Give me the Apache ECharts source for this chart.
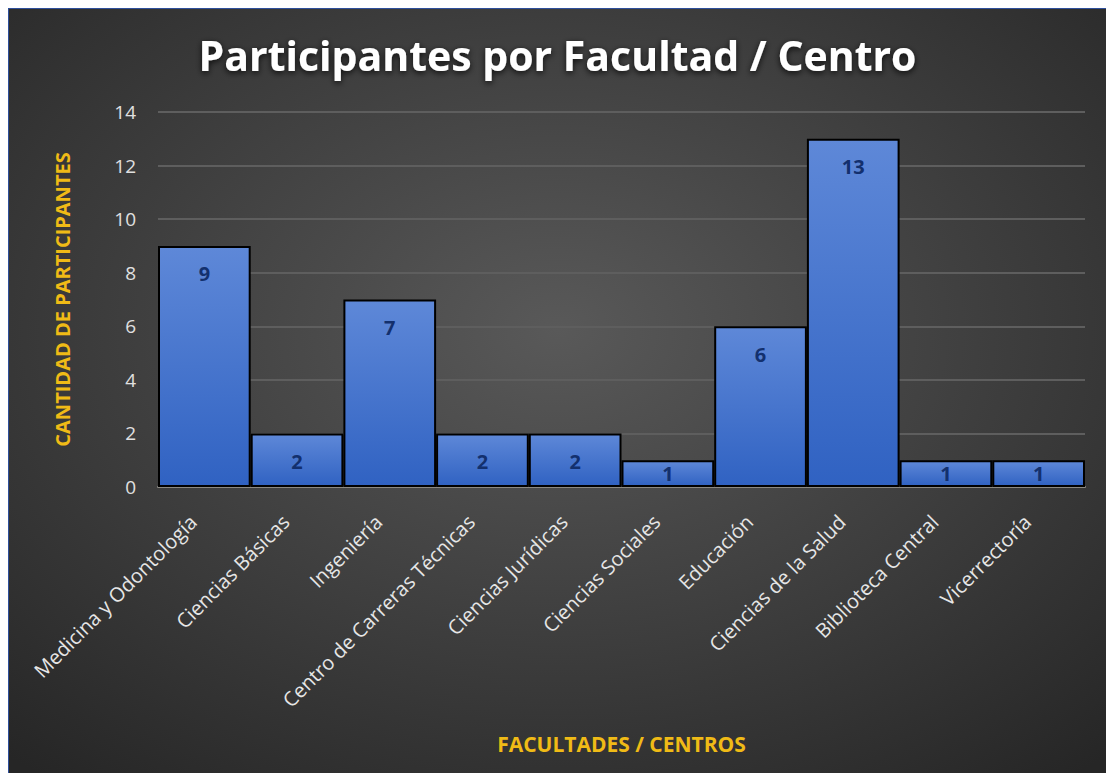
<!DOCTYPE html>
<html>
<head>
<meta charset="utf-8">
<script src="https://cdn.jsdelivr.net/npm/echarts@6/dist/echarts.min.js"></script>
<style>
  html, body { margin: 0; padding: 0; background: #fff; }
  #chart {
    position: absolute;
    left: 8px;
    top: 8px;
    width: 1098px;
    height: 765px;
    border-top: 1px solid #2e4f9a;
    border-left: 1px solid #2e4f9a;
    box-sizing: border-box;
  }
</style>
</head>
<body>
<div id="chart"></div>
<script>
const categories = [
  "Medicina y Odontología", "Ciencias Básicas", "Ingeniería",
  "Centro de Carreras Técnicas", "Ciencias Jurídicas", "Ciencias Sociales",
  "Educación", "Ciencias de la Salud", "Biblioteca Central", "Vicerrectoría"
]
const participantes = [9, 2, 7, 2, 2, 1, 6, 13, 1, 1]
const yTicks = { min: 0, max: 14, interval: 2 }

const FONT = "'Open Sans', 'DejaVu Sans', sans-serif"
const GOLD = "#f0bb16"

const chart = echarts.init(document.getElementById("chart"), null, { renderer: "svg" })

// small bars get a centred label, like the original
const barData = participantes.map(v => v < 2
  ? { value: v, label: { position: "inside" } }
  : v)

chart.setOption({
  backgroundColor: {
    type: "radial", x: 0.5, y: 0.42, r: 0.75,
    colorStops: [
      { offset: 0, color: "#595959" },
      { offset: 0.55, color: "#3d3d3d" },
      { offset: 1, color: "#262626" },
    ],
  },
  title: {
    text: "Participantes por Facultad / Centro",
    left: "center",
    top: 20,
    textStyle: {
      color: "#ffffff",
      fontFamily: FONT,
      fontWeight: "bold",
      fontSize: 41,
      textShadowColor: "rgba(0,0,0,0.8)",
      textShadowBlur: 6,
      textShadowOffsetY: 2,
    },
  },
  grid: { left: 149, right: 21, top: 103, bottom: 286 },
  xAxis: {
    type: "category",
    data: categories,
    name: "FACULTADES / CENTROS",
    nameLocation: "middle",
    nameGap: 246,
    nameTextStyle: { color: GOLD, fontFamily: FONT, fontWeight: "bold", fontSize: 21 },
    axisLine: { lineStyle: { color: "#8c8a84", width: 2 } },
    axisTick: { show: false },
    axisLabel: {
      color: "#e6e6e6",
      fontFamily: FONT,
      fontSize: 20,
      rotate: 45,
      margin: 20,
      padding: [0, 16, 0, 0],
      interval: 0,
    },
  },
  yAxis: {
    type: "value",
    min: yTicks.min,
    max: yTicks.max,
    interval: yTicks.interval,
    name: "CANTIDAD DE PARTICIPANTES",
    nameLocation: "middle",
    nameGap: 86,
    nameTextStyle: { color: GOLD, fontFamily: FONT, fontWeight: "bold", fontSize: 20 },
    axisLine: { show: false },
    axisTick: { show: false },
    axisLabel: { color: "#e0e0e0", fontFamily: FONT, fontSize: 19, margin: 22 },
    splitLine: { lineStyle: { color: "#5e5e5e", width: 2 } },
  },
  series: [{
    type: "bar",
    data: barData,
    barCategoryGap: "0%",
    itemStyle: {
      color: {
        type: "linear", x: 0, y: 0, x2: 0, y2: 1,
        colorStops: [
          { offset: 0, color: "#5e88d8" },
          { offset: 1, color: "#3062c2" },
        ],
      },
      borderColor: "#000000",
      borderWidth: 2,
    },
    label: {
      show: true,
      position: "insideTop",
      distance: 18,
      color: "#13306e",
      fontFamily: FONT,
      fontWeight: "bold",
      fontSize: 20,
    },
  }],
})
</script>
</body>
</html>
